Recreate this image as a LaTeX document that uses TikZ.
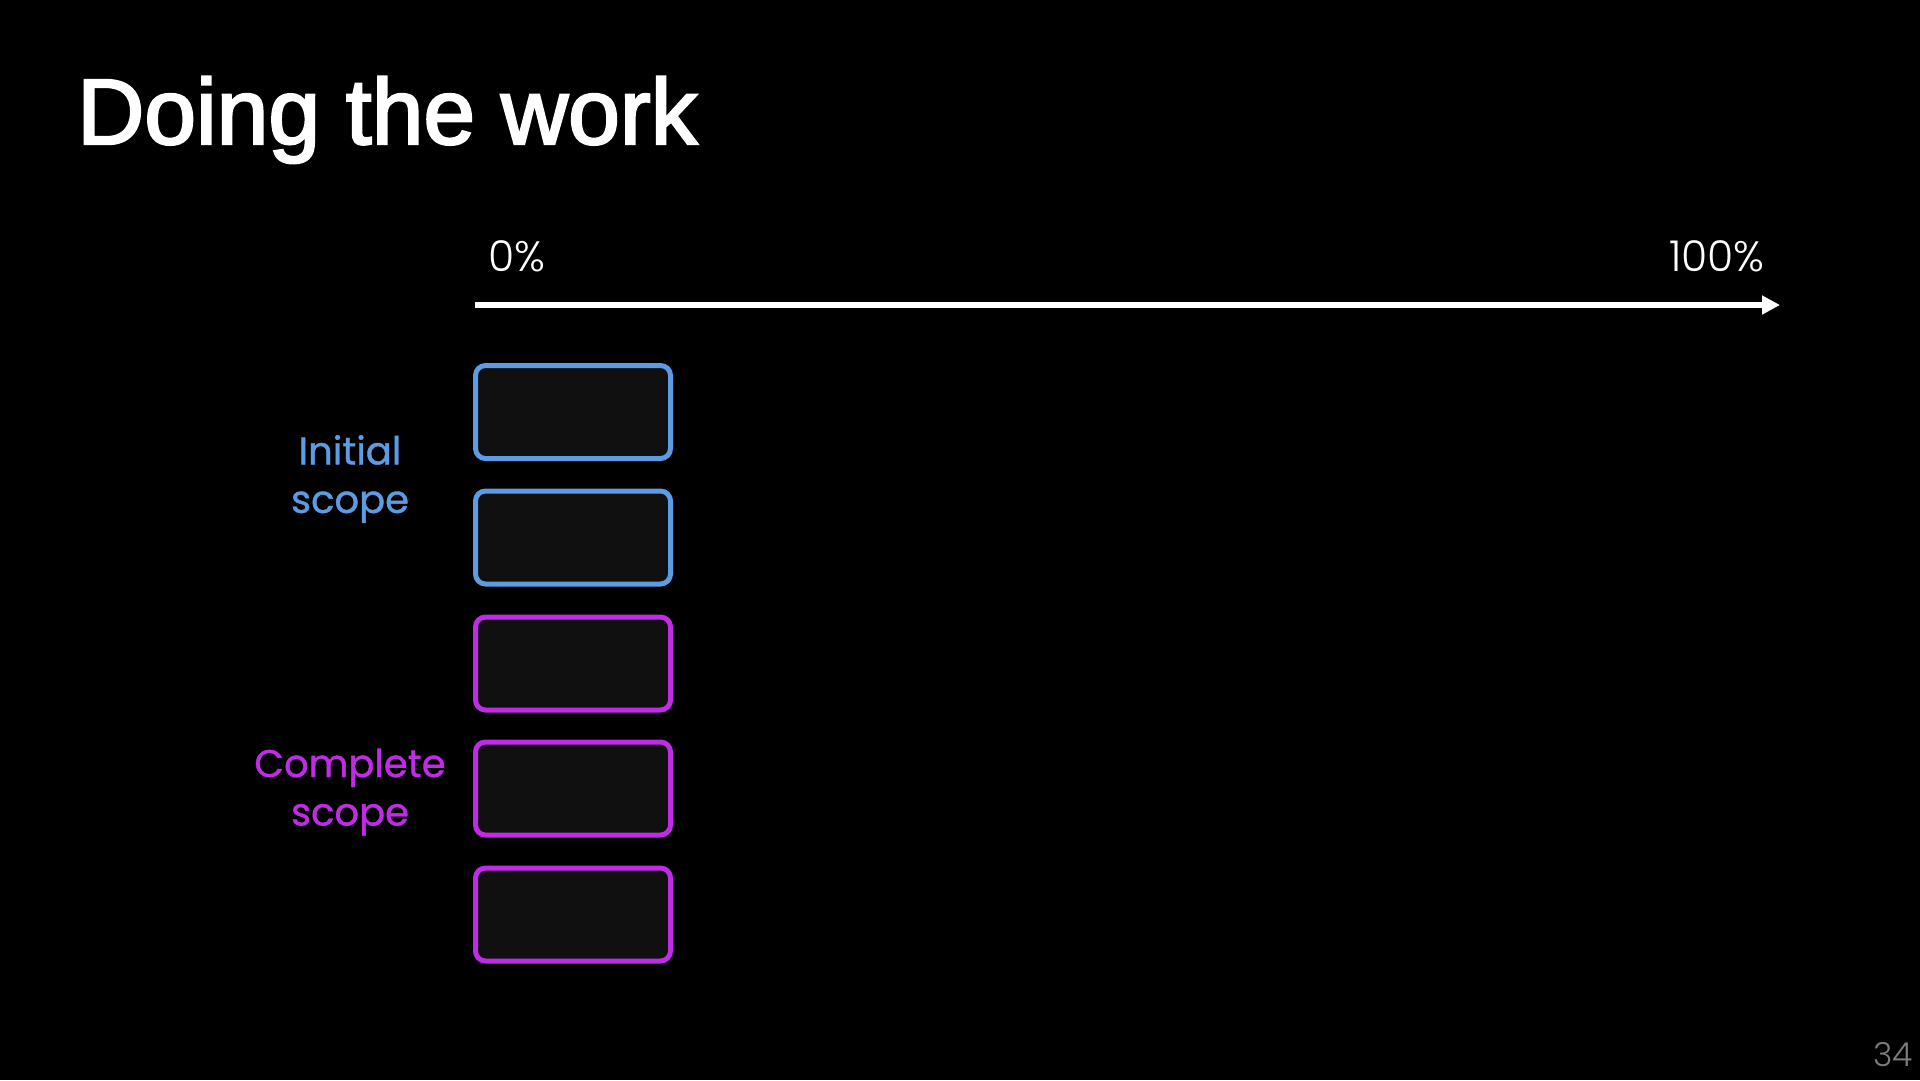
\documentclass[tikz,border=0pt]{standalone}
\usepackage{fontspec}
\setmainfont{Poppins}
\newfontfamily\titlefont[FakeBold=2.5]{Liberation Sans}
\newfontfamily\lightfont{Poppins Light}
\newfontfamily\labelfont[FakeBold=1.0]{Poppins}
\usetikzlibrary{arrows.meta}
\definecolor{scopeblue}{RGB}{93,155,227}
\definecolor{scopemag}{RGB}{192,44,230}
\definecolor{boxfill}{RGB}{16,16,16}
\definecolor{pagegray}{RGB}{125,125,125}
\tikzset{
  taskbox/.style={draw, line width=5pt, rounded corners=10pt, fill=boxfill,
    minimum width=195pt, minimum height=93pt, inner sep=0pt},
  bluebox/.style={taskbox, draw=scopeblue},
  magbox/.style={taskbox, draw=scopemag},
  scopelabel/.style={align=center, inner sep=0pt, font=\labelfont\fontsize{38.5}{48.5}\selectfont},
  axislabel/.style={inner sep=0pt, text=white, font=\lightfont\fontsize{42.5}{48}\selectfont},
  axisline/.style={draw=white, line width=6.5pt, -{Triangle[length=18pt,width=18pt]}}
}
\begin{document}
\begin{tikzpicture}[x=1pt,y=-1pt]
\useasboundingbox (0,0) rectangle (1920,1080);
\fill[black] (0,0) rectangle (1920,1080);

\node[anchor=base west, inner sep=0pt, text=white, font=\titlefont\fontsize{93}{100}\selectfont] (title) at (77,144) {Doing the work};

\coordinate (axL) at (475,305);
\coordinate (axR) at (1780,305);
\draw[axisline] (axL) -- (axR);
\node[axislabel, anchor=base west] (zero) at (488,271) {0\%};
\node[axislabel, anchor=base east] (hundred) at (1765,271) {100\%};

\node[bluebox] (b1) at (573,412) {};
\node[bluebox] (b2) at (573,537.5) {};
\node[magbox] (b3) at (573,663.5) {};
\node[magbox] (b4) at (573,788.5) {};
\node[magbox] (b5) at (573,914.5) {};

\node[scopelabel, text=scopeblue] (initial) at (350,479) {Initial\\scope};
\node[scopelabel, text=scopemag] (complete) at (350,792) {Complete\\scope};

\node[anchor=base east, inner sep=0pt, text=pagegray, font=\lightfont\fontsize{33}{36}\selectfont] (page) at (1913,1066) {34};
\end{tikzpicture}
\end{document}
